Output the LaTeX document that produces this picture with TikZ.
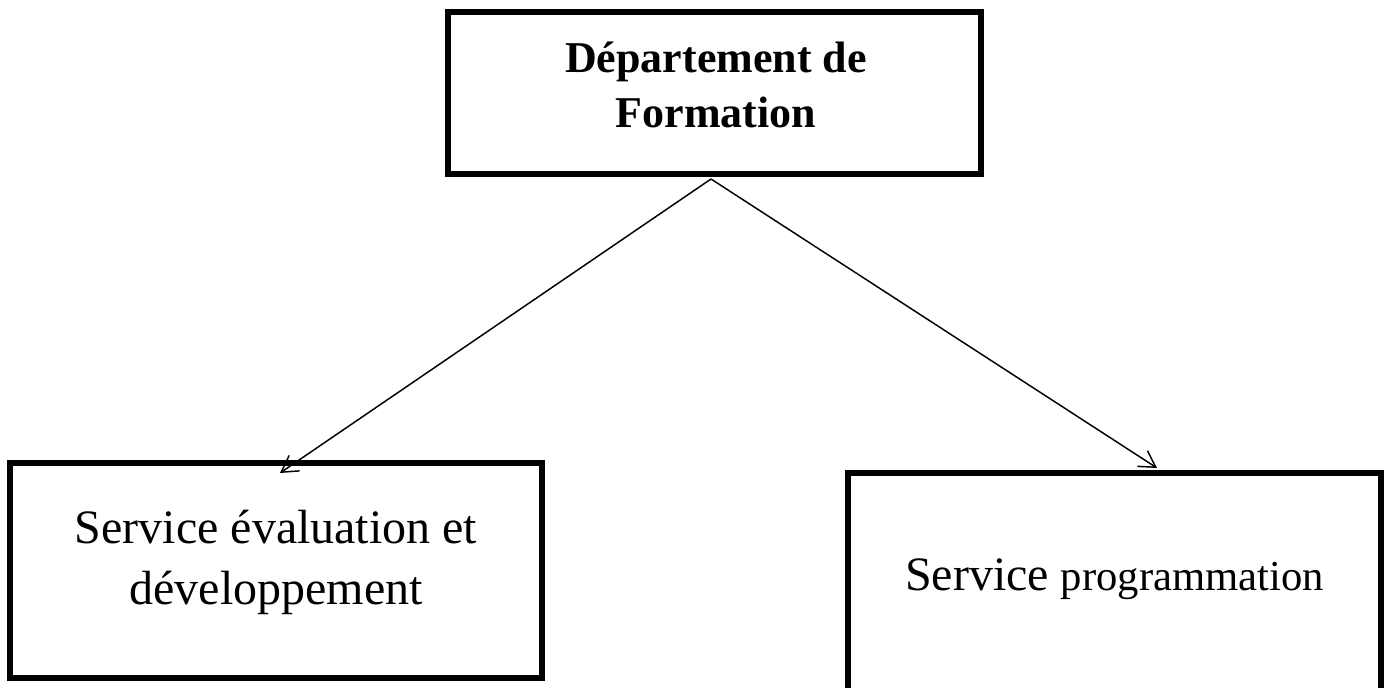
\documentclass[tikz,border=0pt]{standalone}
\usepackage{fontspec}
\setmainfont{Liberation Serif}
\usetikzlibrary{arrows.meta}
\begin{document}
\begin{tikzpicture}[x=0.75pt,y=-0.75pt,
  box/.style={draw,line width=3.8pt,rectangle,inner sep=0pt,line join=miter},
  conn/.style={line width=1.1pt,-{Straight Barb[length=12pt,width=14pt,line width=1.1pt]}},
  txt/.style={anchor=base,inner sep=0pt}
]
\useasboundingbox (0,0) rectangle (1387,687);
% boxes
\node[box,minimum width=399.75pt,minimum height=121.5pt] (dep) at (714.5,93) {};
\node[box,minimum width=399pt,minimum height=161.25pt] (eval) at (276,570.5) {};
\node[box,minimum width=399.75pt,minimum height=164.25pt] (prog) at (1114.5,582.5) {};
% texts
\node[txt,font=\fontsize{33}{39}\selectfont\bfseries] (dep1) at (716,72) {Département de};
\node[txt,font=\fontsize{33}{39}\selectfont\bfseries] (dep2) at (716,127) {Formation};
\node[txt,font=\fontsize{36}{42}\selectfont] (ev1) at (276,543) {Service évaluation et};
\node[txt,font=\fontsize{36}{42}\selectfont] (ev2) at (276,604) {développement};
\node[txt] (pr1) at (1114.5,590) {\fontsize{36}{42}\selectfont Service \fontsize{32}{38}\selectfont programmation};
% connectors
\coordinate (apex) at (711,179);
\coordinate (tipL) at (280,473);
\coordinate (tipR) at (1157,468);
\draw[conn] (apex) -- (tipL);
\draw[conn] (apex) -- (tipR);
\end{tikzpicture}
\end{document}
